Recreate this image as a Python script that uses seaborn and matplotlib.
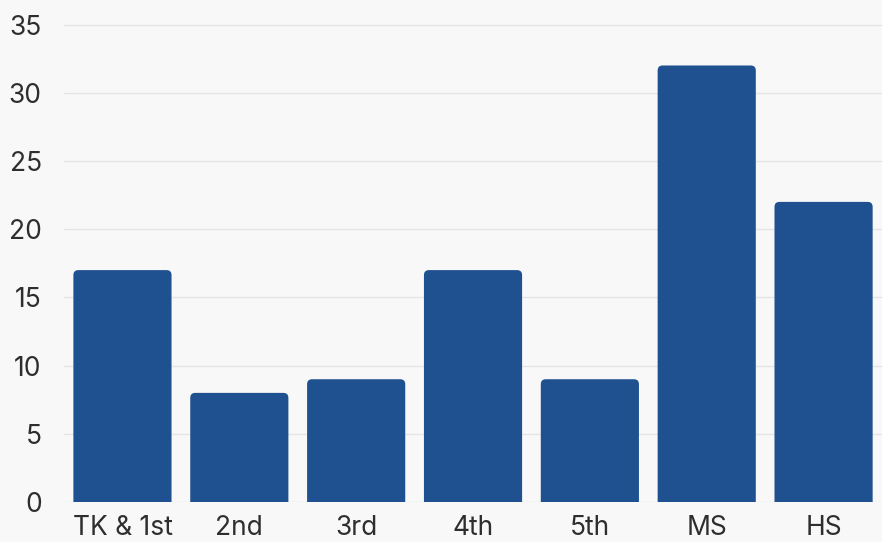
import seaborn as sns
import matplotlib.pyplot as plt
from matplotlib.patches import FancyBboxPatch

grades = ['TK & 1st', '2nd', '3rd', '4th', '5th', 'MS', 'HS']
counts = [17, 8, 9, 17, 9, 32, 22]
yticks = [0, 5, 10, 15, 20, 25, 30, 35]

sns.set_style('white')
plt.rcParams['font.family'] = ['Inter', 'DejaVu Sans']

fig = plt.figure(figsize=(8.82, 5.42), dpi=100, facecolor='#f8f8f8')
ax = fig.add_axes([0.0726, 0.0738, 0.9274, 0.9262])
ax.set_facecolor('#f8f8f8')

sns.barplot(x=grades, y=counts, color='#1f5190', width=0.84, saturation=1, ax=ax)

ax.set_xlim(-0.5, 6.5)
ax.set_ylim(0, 36.8)

# swap plain bars for ones with rounded tops
x_px = 0.9274 * 882 / 7
y_px = 0.9262 * 542 / 36.8
r = 5 / x_px
ext = 8 / y_px
for p in list(ax.patches):
    x, y = p.get_x(), p.get_y()
    w, h = p.get_width(), p.get_height()
    fb = FancyBboxPatch((x, y - ext), w, h + ext, boxstyle=f'round,pad=0,rounding_size={r}',
                        mutation_aspect=x_px / y_px, facecolor=p.get_facecolor(),
                        edgecolor='none', zorder=3)
    p.remove()
    ax.add_patch(fb)

ax.set_yticks(yticks)
ax.yaxis.grid(True, color='#e4e4e4', linewidth=1)
ax.set_axisbelow(True)
sns.despine(ax=ax, left=True, bottom=True)
ax.tick_params(axis='both', length=0, labelsize=19, colors='#2e2e2e')
ax.tick_params(axis='y', pad=16)
ax.tick_params(axis='x', pad=9)

fig.savefig('out.png', dpi=100, facecolor=fig.get_facecolor())
